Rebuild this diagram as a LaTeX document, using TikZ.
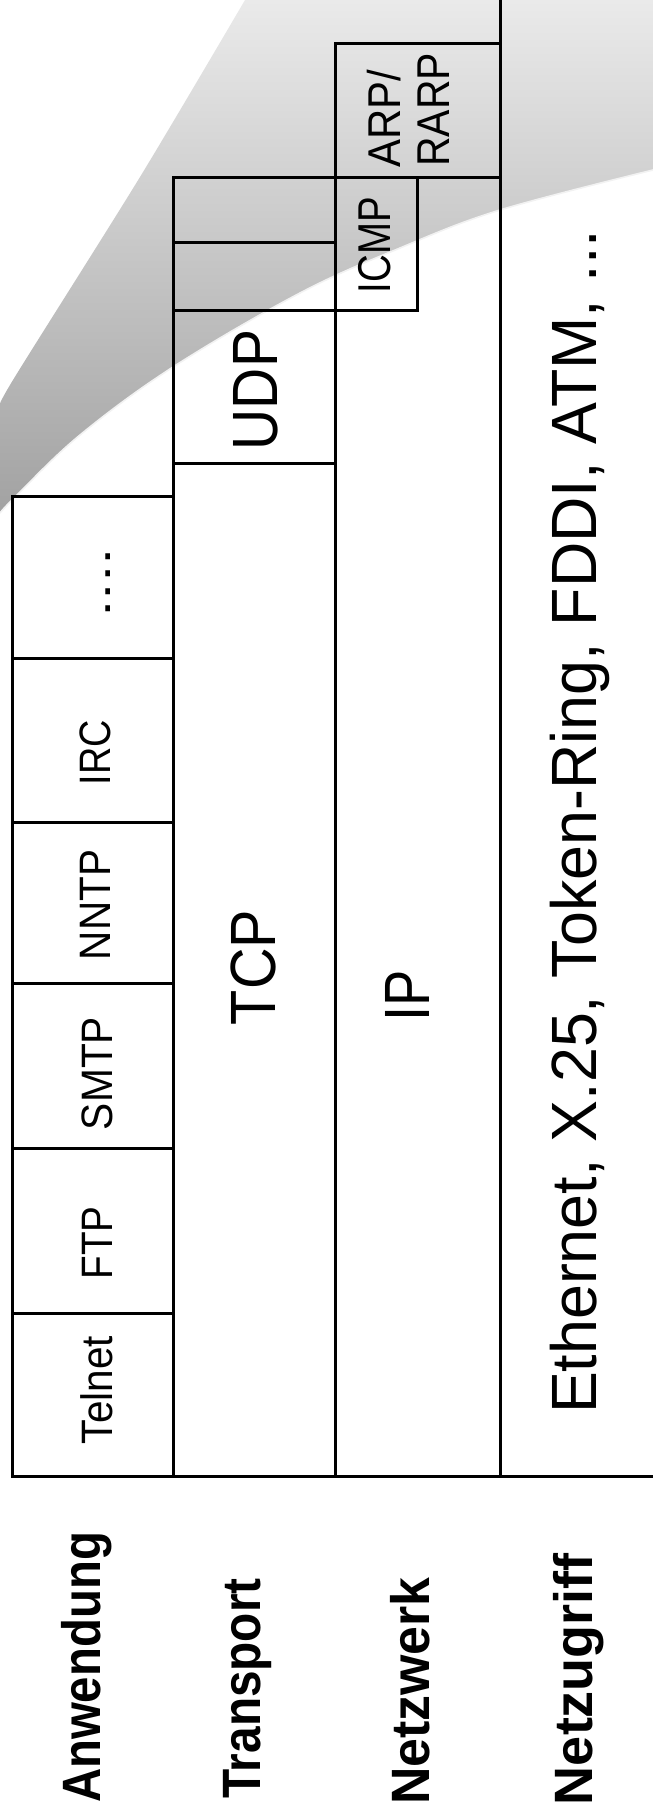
\documentclass[tikz,border=0pt]{standalone}
\usepackage{fontspec}
\setmainfont{Liberation Sans}
\usepackage{graphicx}
\definecolor{topg}{RGB}{234,234,234}
\definecolor{botg}{RGB}{162,162,162}
\definecolor{hilite}{RGB}{242,242,242}
\newcommand{\sx}[2]{\scalebox{#1}[1]{#2}}
\begin{document}
\begin{tikzpicture}[x=1pt,y=1pt,
  rule/.style={line width=3pt, line cap=rect, black},
  txt/.style={rotate=90, anchor=base, inner sep=0pt},
  app/.style={txt, font=\fontsize{44}{50}\selectfont},
  big/.style={txt, font=\fontsize{64}{70}\selectfont},
  small/.style={txt, font=\fontsize{46}{50}\selectfont},
  layer/.style={txt, font=\bfseries\fontsize{54}{60}\selectfont}]
\useasboundingbox (0,0) rectangle (653,-1820);
% grey swoosh background
\shade[top color=topg, bottom color=botg]
  (245,0) -- (653,0) -- (653,-170)
  -- plot[smooth, tension=0.6] coordinates {(653,-170) (500,-210) (400,-248) (300,-293) (173,-367) (80,-435) (17,-495) (0,-513)}
  -- (0,-407)
  -- plot[smooth, tension=0.5] coordinates {(0,-407) (13,-380) (140,-177) (245,0)}
  -- cycle;
\draw[hilite, line width=1.6pt] plot[smooth, tension=0.6] coordinates {(653,-170) (500,-210) (400,-248) (300,-293) (173,-367) (80,-435) (17,-495) (0,-513)};
% grid lines
\draw[rule] (12,-496) -- (12,-1476);
\draw[rule] (173,-177.5) -- (173,-1476);
\draw[rule] (335,-43.5) -- (335,-1476);
\draw[rule] (500,0) -- (500,-1476);
\draw[rule] (417,-177.5) -- (417,-310);
\draw[rule] (335,-43.5) -- (500,-43.5);
\draw[rule] (173,-177.5) -- (500,-177.5);
\draw[rule] (173,-242) -- (335,-242);
\draw[rule] (173,-310) -- (417,-310);
\draw[rule] (173,-463) -- (335,-463);
\foreach \yy in {496,658,822,983,1148,1313} \draw[rule] (12,-\yy) -- (173,-\yy);
\draw[rule] (12,-1476) -- (653,-1476);
% application protocols
\node[app] (telnet) at (112,-1390) {\sx{0.92}{Telnet}};
\node[app] (ftp) at (112.5,-1243) {\sx{0.88}{FTP}};
\node[app] (smtp) at (112.5,-1073.5) {\sx{0.925}{SMTP}};
\node[app] (nntp) at (110,-905) {\sx{0.92}{NNTP}};
\node[app] (irc) at (110,-752.5) {\sx{0.86}{IRC}};
\node[app] (dots) at (110,-583) {\sx{1.43}{....}};
% transport / network
\node[big] (tcp) at (275,-967.5) {\sx{0.9}{TCP}};
\node[big] (udp) at (277,-390) {\sx{0.89}{UDP}};
\node[big] (ip) at (429,-996) {\sx{0.85}{IP}};
\node[small] (icmp) at (390,-245) {\sx{0.835}{ICMP}};
\node[small, anchor=base west] (arp) at (400,-168) {\sx{0.91}{ARP/}};
\node[small, anchor=base west] (rarp) at (449,-167) {\sx{0.89}{RARP}};
\node[big] (eth) at (596,-822) {\sx{0.98}{Ethernet, X.25, Token-Ring, FDDI, ATM, ...}};
% layer names
\node[layer] (anw) at (100,-1667.5) {\sx{0.877}{Anwendung}};
\node[layer] (trans) at (260,-1688.5) {\sx{0.885}{Transport}};
\node[layer] (netz) at (429,-1691) {\sx{0.96}{Netzwerk}};
\node[layer] (zugr) at (592,-1679) {\sx{1.0}{Netzugriff}};
\end{tikzpicture}
\end{document}
